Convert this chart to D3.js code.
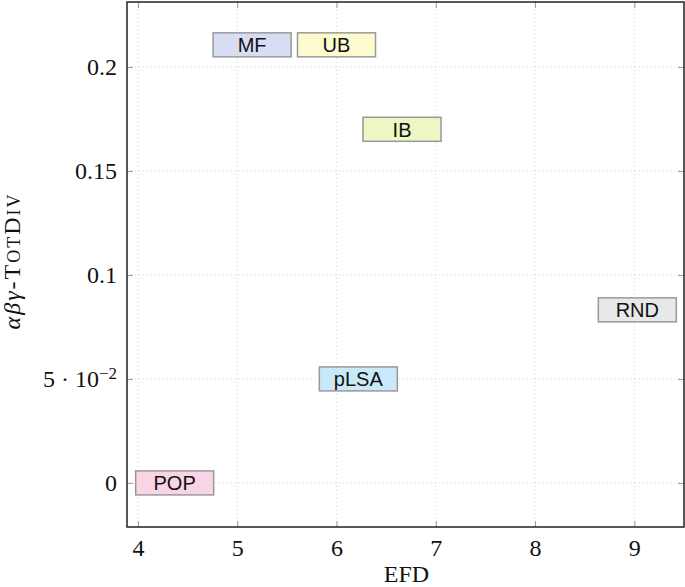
<!DOCTYPE html>
<html>
<head>
	<meta charset='utf-8'>
	<style>
		body { margin: 0; background: #fff; }
		.grid line { stroke: #d0d0d0; stroke-dasharray: 1 3; }
		.axis text { font-family: 'Liberation Serif', serif; font-size: 24px; fill: #111; }
		.axis path { display: none; }
		.axis line { stroke: #999; }
		.frame { fill: none; stroke: #222; stroke-width: 1.5px; }
		.tag rect { stroke: #999; stroke-width: 1.5px; }
		.tag text { font-family: 'Liberation Sans', sans-serif; font-size: 20px; fill: #111; }
		.label { font-family: 'Liberation Serif', serif; font-size: 24px; fill: #111; }
	</style>
</head>
<body>
<script src='https://d3js.org/d3.v7.min.js'></script>
<script>
	'use strict';
	const methods = ['MF', 'UB', 'IB', 'RND', 'pLSA', 'POP'];
	const efd = [5.15, 6.0, 6.66, 9.03, 6.22, 4.37];
	const totDiv = [0.2106, 0.2106, 0.170, 0.0832, 0.05, 0.0];
	const colors = ['#d8ddf4', '#fcfbcd', '#ecf7c3', '#e8e8e8', '#c9e9f8', '#f8d4e4'];
	const xTicks = [4, 5, 6, 7, 8, 9];
	const yTicks = [0, 0.05, 0.1, 0.15, 0.2];

	const margin = {top: 2, right: 1, bottom: 60, left: 127};
	const width = 685 - margin.left - margin.right;
	const height = 587 - margin.top - margin.bottom;

	const x = d3.scaleLinear().domain([3.89, 9.5]).range([0, width]);
	const y = d3.scaleLinear().domain([-0.0212, 0.2312]).range([height, 0]);

	const svg = d3.select('body').append('svg')
		.attr('width', 685)
		.attr('height', 587)
		.append('g')
		.attr('transform', 'translate(' + margin.left + ',' + margin.top + ')');

	// сетка
	svg.append('g').attr('class', 'grid')
		.selectAll('line').data(xTicks).enter().append('line')
		.attr('x1', d => x(d)).attr('x2', d => x(d))
		.attr('y1', 0).attr('y2', height);
	svg.append('g').attr('class', 'grid')
		.selectAll('line').data(yTicks).enter().append('line')
		.attr('y1', d => y(d)).attr('y2', d => y(d))
		.attr('x1', 0).attr('x2', width);

	// оси
	svg.append('g').attr('class', 'axis')
		.attr('transform', 'translate(0,' + height + ')')
		.call(d3.axisBottom(x).tickValues(xTicks).tickSize(-6).tickPadding(12).tickFormat(d3.format('d')));
	svg.append('g').attr('class', 'axis')
		.call(d3.axisTop(x).tickValues(xTicks).tickSize(-6).tickFormat(''));
	const yAxis = svg.append('g').attr('class', 'axis')
		.call(d3.axisLeft(y).tickValues(yTicks).tickSize(-6).tickPadding(10).tickFormat(d => d === 0.05 ? '' : String(d)));
	svg.append('g').attr('class', 'axis')
		.attr('transform', 'translate(' + width + ',0)')
		.call(d3.axisRight(y).tickValues(yTicks).tickSize(-6).tickFormat(''));

	// 5·10^-2
	yAxis.selectAll('.tick').filter(d => d === 0.05).select('text')
		.each(function() {
			const t = d3.select(this);
			t.append('tspan').text('5 · 10');
			t.append('tspan').attr('dy', '-0.45em').style('font-size', '17px').text('−2');
		});

	svg.append('rect').attr('class', 'frame')
		.attr('width', width).attr('height', height);

	// метки
	const tags = svg.selectAll('.tag')
		.data(methods)
		.enter().append('g')
		.attr('class', 'tag')
		.attr('transform', (d, i) => 'translate(' + x(efd[i]) + ',' + y(totDiv[i]) + ')');
	tags.append('rect')
		.attr('x', -39).attr('y', -12).attr('width', 78).attr('height', 24)
		.attr('fill', (d, i) => colors[i]);
	tags.append('text')
		.attr('text-anchor', 'middle').attr('dy', '0.36em')
		.text(d => d);

	svg.append('text').attr('class', 'label')
		.attr('x', width / 2 + 1).attr('y', height + 55)
		.attr('text-anchor', 'middle').text('EFD');

	const yl = svg.append('text').attr('class', 'label')
		.attr('transform', 'translate(-107,' + (y(0.1) - 14) + ') rotate(-90)')
		.attr('text-anchor', 'middle')
		.style('letter-spacing', '2px');
	yl.append('tspan').style('font-style', 'italic').text('αβγ');
	yl.append('tspan').text('-T');
	yl.append('tspan').style('font-size', '18px').text('OT');
	yl.append('tspan').text('D');
	yl.append('tspan').style('font-size', '18px').text('IV');
</script>
</body>
</html>
